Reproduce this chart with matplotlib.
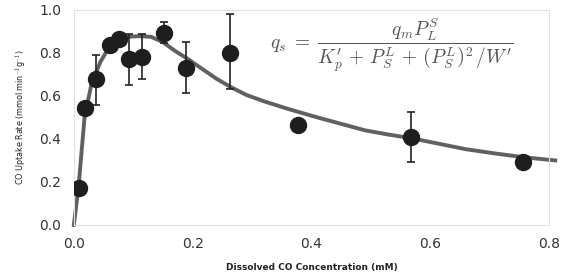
import matplotlib.pyplot as plt

plt.rcParams['mathtext.fontset'] = 'cm'

# measured data (mM, mmol min^-1 g^-1)
conc = [0.0084, 0.0186, 0.038, 0.061, 0.076, 0.092, 0.114, 0.152, 0.189, 0.263, 0.378, 0.567, 0.756]
rate = [0.174, 0.545, 0.68, 0.837, 0.865, 0.77, 0.78, 0.895, 0.73, 0.80, 0.465, 0.41, 0.292]
err_lo = [0.0, 0.0, 0.12, 0.0, 0.0, 0.12, 0.10, 0.05, 0.115, 0.17, 0.03, 0.118, 0.0]
err_hi = [0.0, 0.0, 0.11, 0.0, 0.0, 0.12, 0.11, 0.05, 0.12, 0.18, 0.03, 0.117, 0.0]

# fitted curve
fit_x = [0.0, 0.008, 0.018, 0.030, 0.045, 0.060, 0.075, 0.090, 0.110, 0.130, 0.150,
         0.170, 0.190, 0.210, 0.240, 0.263, 0.290, 0.320, 0.360, 0.410, 0.450, 0.490,
         0.530, 0.565, 0.610, 0.660, 0.710, 0.760, 0.810]
fit_y = [0.0, 0.18, 0.50, 0.66, 0.76, 0.83, 0.865, 0.875, 0.878, 0.875, 0.85,
         0.81, 0.775, 0.737, 0.68, 0.643, 0.605, 0.575, 0.54, 0.50, 0.47, 0.44,
         0.42, 0.405, 0.38, 0.352, 0.332, 0.314, 0.30]

fig = plt.figure(figsize=(5.68, 2.76), dpi=100)
ax = fig.add_axes([0.130, 0.185, 0.837, 0.779])

ax.plot(fit_x, fit_y, color='#606060', lw=2.8, zorder=2, clip_on=False)
ax.errorbar(conc, rate, yerr=[err_lo, err_hi], fmt='none', ecolor='#222222',
            elinewidth=1.2, capsize=3, capthick=1.2, zorder=3)
ax.plot(conc, rate, 'o', color='#1e1e1e', ms=11.5, zorder=4)

ax.set_xlim(0, 0.8)
ax.set_ylim(0, 1.0)
ax.set_xticks([0.0, 0.2, 0.4, 0.6, 0.8])
ax.set_yticks([0.0, 0.2, 0.4, 0.6, 0.8, 1.0])
ax.set_xticklabels(['0.0', '0.2', '0.4', '0.6', '0.8'])
ax.set_yticklabels(['0.0', '0.2', '0.4', '0.6', '0.8', '1.0'])
ax.tick_params(length=0, labelsize=10, colors='#333333', pad=9)
for s in ax.spines.values():
    s.set_color('#e2e2e2')
    s.set_linewidth(0.8)

ax.set_xlabel('Dissolved CO Concentration (mM)', fontsize=6.5, fontweight='bold', color='#222222', labelpad=8)
ax.set_ylabel(r'CO Uptake Rate (mmol min$^{-1}$g$^{-1}$)', fontsize=5.8, color='#222222', labelpad=8)

ax.text(0.668, 0.835,
        r"$q_s \;=\; \dfrac{q_m P_L^S}{K_p^{\prime} \,+\, P_S^L \,+\, \left(P_S^L\right)^2 \,/ W^{\prime}}$",
        transform=ax.transAxes, ha='center', va='center', fontsize=14, color='#555555')

fig.savefig('out.png', dpi=100)
